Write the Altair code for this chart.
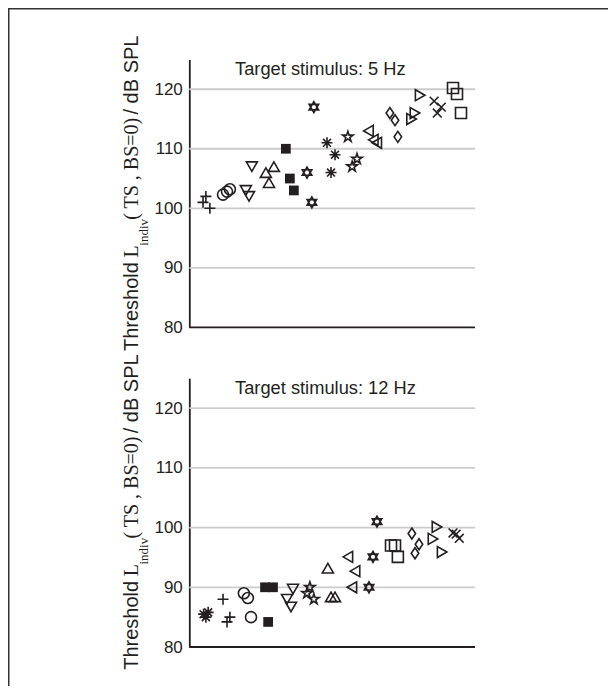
import altair as alt
import pandas as pd

# ---------------- data ----------------
subjects = ["plus", "circle", "tri_down", "tri_up", "sq_filled", "hexagram",
            "asterisk", "star", "tri_left", "diamond", "tri_right", "xcross", "sq_open"]

# Target stimulus 5 Hz (subject order along x as in the figure)
order_5hz = ["plus", "circle", "tri_down", "tri_up", "sq_filled", "hexagram",
             "asterisk", "star", "tri_left", "diamond", "tri_right", "xcross", "sq_open"]
x_5hz = [4.8, 5.8, 7.2, 11.8, 13.2, 14.2, 21.9, 19.8, 20.9, 29.6, 26.8, 27.9,
         33.8, 35.2, 36.6, 43.6, 41.2, 42.9, 48.2, 51.0, 49.6, 55.5, 58.7, 57.0,
         62.7, 64.4, 65.6, 70.2, 72.0, 73.0, 80.8, 79.0, 77.8, 85.7, 88.2, 86.8,
         92.3, 93.7, 95.1]
y_5hz = [101, 102, 100, 102.3, 102.8, 103.2, 107, 103, 102, 107, 106, 104.3,
         110, 105, 103, 117, 106, 101, 111, 109, 106, 112, 108.3, 107,
         113, 111.5, 111, 116, 114.8, 112, 119, 116, 115, 118, 117, 116,
         120.2, 119.2, 116]

# Target stimulus 12 Hz
order_12hz = ["asterisk", "plus", "circle", "sq_filled", "tri_down", "star",
              "tri_up", "tri_left", "hexagram", "sq_open", "diamond", "tri_right", "xcross"]
x_12hz = [5.0, 5.8, 6.6, 11.8, 13.2, 14.2, 19.1, 20.5, 21.6, 26.5, 29.3, 27.6,
          36.3, 34.2, 35.6, 42.2, 41.2, 43.6, 48.5, 49.6, 51.0, 55.5, 58.0, 56.9,
          65.7, 64.3, 62.9, 70.6, 72.0, 73.0, 77.9, 80.4, 79.0, 86.7, 85.3, 88.5,
          92.3, 93.4, 94.5]
y_12hz = [85.5, 85.0, 85.8, 88, 84.2, 85, 89, 88.2, 85, 90, 90, 84.2,
          89.7, 88, 86.7, 90, 89, 88, 93.2, 88.4, 88.4, 95.1, 92.7, 90,
          101, 95.1, 90, 97, 97, 95.1, 99, 97.2, 95.7, 100.1, 98.1, 95.9,
          99.1, 98.9, 98.2]

grid_values = [90, 100, 110, 120]
y_ticks = [80, 90, 100, 110, 120]
panel_titles = ["Target stimulus: 5 Hz", "Target stimulus: 12 Hz"]

# ---------------- styles ----------------
INK = "#231f20"
GRID = "#cccccc"
SANS = "Liberation Sans"
SERIF = "Liberation Serif"

shape_paths = {
    "plus": "M-1,0L1,0M0,-1L0,1",
    "circle": "circle",
    "tri_down": "triangle-down",
    "tri_up": "triangle-up",
    "hexagram": "M0,-1L0.866,0.5L-0.866,0.5ZM0,1L0.866,-0.5L-0.866,-0.5Z",
    "asterisk": "M-1,0L1,0M0,-1L0,1M-0.72,-0.72L0.72,0.72M-0.72,0.72L0.72,-0.72",
    "star": "M0,-1L0.225,-0.309L0.951,-0.309L0.363,0.118L0.588,0.809L0,0.382"
            "L-0.588,0.809L-0.363,0.118L-0.951,-0.309L-0.225,-0.309Z",
    "tri_left": "triangle-left",
    "diamond": "M0,-1L0.68,0L0,1L-0.68,0Z",
    "tri_right": "triangle-right",
    "xcross": "M-0.8,-0.8L0.8,0.8M-0.8,0.8L0.8,-0.8",
    "sq_open": "square",
}
shape_sizes = {
    "plus": 121, "circle": 121, "tri_down": 200, "tri_up": 195, "hexagram": 115,
    "asterisk": 95, "star": 170, "tri_left": 205, "diamond": 300, "tri_right": 205,
    "xcross": 100, "sq_open": 66,
}
open_subjects = [s for s in subjects if s != "sq_filled"]

W, H = 600, 678
X_RANGE = [181.3, 467]
Y_RANGES = [[319.3, 51.5], [639, 370.3]]


def expand(order):
    out = []
    for s in order:
        out += [s, s, s]
    return out


def panel(k, order, xs, ys):
    df = pd.DataFrame({"subject": expand(order), "x": xs, "y": ys})
    yscale = alt.Scale(domain=[80, 125], range=Y_RANGES[k], nice=False, zero=False)
    xscale = alt.Scale(domain=[0, 100], range=X_RANGE, nice=False, zero=False)
    yaxis = alt.Axis(values=y_ticks, grid=False, ticks=False, tickSize=0, orient="left",
                     offset=-X_RANGE[0], labelPadding=7, labelFontSize=17,
                     labelFont=SANS, labelColor=INK, domainColor=INK,
                     domainWidth=1.8, title=None, labelFlush=False)

    def Y(field):
        return alt.Y(f"{field}:Q", scale=yscale, axis=yaxis)

    gdf = pd.DataFrame({"y": grid_values, "x0": [0] * 4, "x1": [100] * 4})
    grid = alt.Chart(gdf).mark_rule(color=GRID, strokeWidth=1.8).encode(
        y=Y("y"), x=alt.X("x0:Q", scale=xscale, axis=None), x2="x1:Q")
    base = pd.DataFrame({"y": [80], "x0": [0], "x1": [100]})
    xline = alt.Chart(base).mark_rule(color=INK, strokeWidth=1.8).encode(
        y=Y("y"), x=alt.X("x0:Q", scale=xscale, axis=None), x2="x1:Q")

    opens = alt.Chart(df[df.subject != "sq_filled"]).mark_point(
        filled=False, color=INK, strokeWidth=1.6, opacity=1).encode(
        x=alt.X("x:Q", scale=xscale, axis=None), y=Y("y"),
        shape=alt.Shape("subject:N", scale=alt.Scale(
            domain=open_subjects, range=[shape_paths[s] for s in open_subjects]), legend=None),
        size=alt.Size("subject:O", scale=alt.Scale(
            domain=open_subjects, range=[shape_sizes[s] for s in open_subjects]), legend=None),
    )
    filled = alt.Chart(df[df.subject == "sq_filled"]).mark_point(
        shape="square", filled=True, color=INK, size=95, opacity=1).encode(
        x=alt.X("x:Q", scale=xscale, axis=None), y=Y("y"))

    return alt.layer(grid, xline, opens, filled)


top = panel(0, order_5hz, x_5hz, y_5hz)
bottom = panel(1, order_12hz, x_12hz, y_12hz)

one = pd.DataFrame({"a": [0]})

# panel titles
titles = []
for k, t in enumerate(panel_titles):
    titles.append(alt.Chart(one).mark_text(
        text=t, font=SANS, fontSize=18.3, color=INK, align="left", baseline="alphabetic").encode(
        x=alt.value(227), y=alt.value(67 + k * 319)))

# y-axis titles built from pieces (sans / serif / subscript), rotated
pieces = [("Threshold", SANS, 20, 0, 130), ("L", SERIF, 20, 93.5, 130),
          ("indiv", SERIF, 13, 105.3, 139.5), ("( TS , BS=0)", SERIF, 20, 131.2, 130),
          ("/ dB SPL", SANS, 20, 236.5, 130)]
ytitles = []
for k in range(2):
    start = 343 + k * 318.8
    for txt, fnt, fs, off, bx in pieces:
        ytitles.append(alt.Chart(one).mark_text(
            text=txt, font=fnt, fontSize=fs, color=INK, angle=270,
            align="left", baseline="alphabetic").encode(
            x=alt.value(bx), y=alt.value(start - off)))

# frame lines (top and left)
frame_top = alt.Chart(one).mark_rule(color="#333333", strokeWidth=1.5).encode(
    x=alt.value(0), x2=alt.value(W), y=alt.value(0.75))
frame_left = alt.Chart(one).mark_rule(color="#333333", strokeWidth=1.5).encode(
    x=alt.value(0.75), y=alt.value(0), y2=alt.value(H))

chart = alt.layer(top, bottom, *titles, *ytitles, frame_top, frame_left).resolve_scale(
    y="independent").resolve_axis(y="independent").properties(
    width=W, height=H, padding=0,
    autosize=alt.AutoSizeParams(type="none"),
    background="white",
).configure_view(strokeWidth=0).configure(font=SANS)

chart.save("out.html", embed_options={"renderer": "svg", "actions": False})
